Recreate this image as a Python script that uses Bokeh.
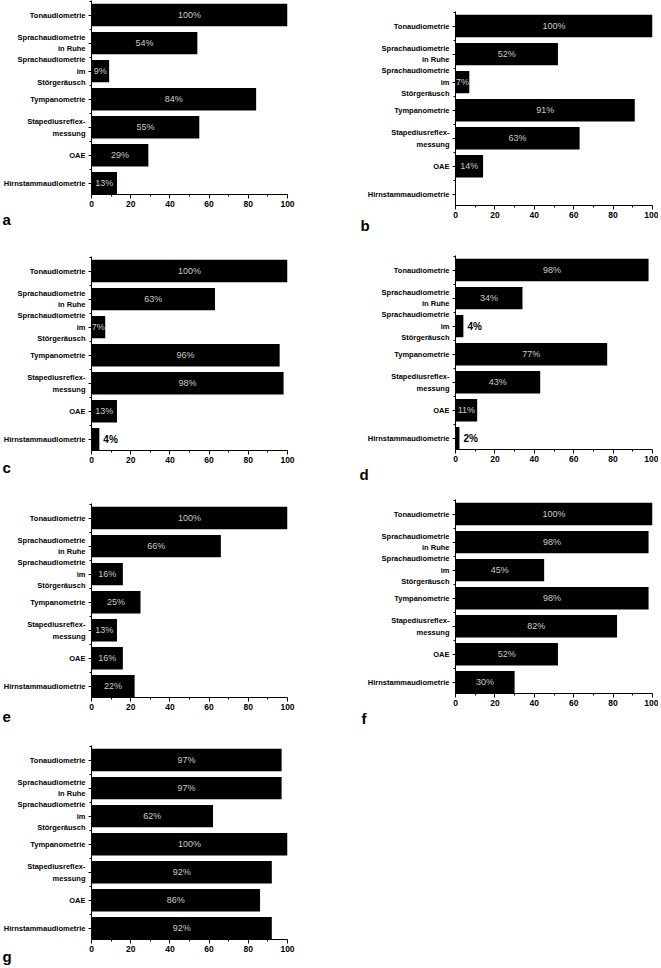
from bokeh.plotting import figure
from bokeh.layouts import column, row
from bokeh.models import ColumnDataSource, FixedTicker, Range1d, Title
from bokeh.core.properties import value
from bokeh.embed import file_html
from bokeh.resources import INLINE

# ---------------- data ----------------
categories = [
    "Tonaudiometrie",
    "Sprachaudiometrie\nin Ruhe",
    "Sprachaudiometrie\nim\nStörgeräusch",
    "Tympanometrie",
    "Stapediusreflex-\nmessung",
    "OAE",
    "Hirnstammaudiometrie",
]
x_ticks = [0, 20, 40, 60, 80, 100]
x_minor_ticks = [10, 30, 50, 70, 90]

values_a = [100, 54, 9, 84, 55, 29, 13]
values_b = [100, 52, 7, 91, 63, 14, 0]
values_c = [100, 63, 7, 96, 98, 13, 4]
values_d = [98, 34, 4, 77, 43, 11, 2]
values_e = [100, 66, 16, 25, 13, 16, 22]
values_f = [100, 98, 45, 98, 82, 52, 30]
values_g = [97, 97, 62, 100, 92, 86, 92]

# ---------------- style ----------------
FONT = "Liberation Sans"
FRAME_H = 194
Y_START, Y_END = -0.4, 6.52


def panel(letter, vals, top, bottom, left, right, frame_w, letter_dx, letter_standoff):
    n = len(categories)
    pos = [n - 1 - i for i in range(n)]
    p = figure(
        title=None,
        width=left + frame_w + right, height=top + FRAME_H + bottom,
        x_range=Range1d(0, 100), y_range=Range1d(Y_START, Y_END),
        output_backend="svg", toolbar_location=None,
        min_border_top=top, min_border_bottom=bottom,
        min_border_left=left, min_border_right=right,
        outline_line_color=None,
        background_fill_color="white", border_fill_color="white",
    )
    src = ColumnDataSource(dict(y=pos, v=vals))
    p.hbar(y="y", left=0, right="v", height=0.8, source=src,
           fill_color="black", line_color=None)

    inside = dict(x=[], y=[], t=[])
    outside = dict(x=[], y=[], t=[])
    for v, y in zip(vals, pos):
        if v >= 5:
            inside["x"].append(v / 2.0)
            inside["y"].append(y)
            inside["t"].append(f"{v}%")
        elif v > 0:
            outside["x"].append(v)
            outside["y"].append(y)
            outside["t"].append(f"{v}%")
    p.text(x="x", y="y", text="t", source=ColumnDataSource(inside),
           text_align="center", text_baseline="middle",
           text_color="#cacaca", text_font=value(FONT), text_font_size="9px")
    p.text(x="x", y="y", text="t", source=ColumnDataSource(outside),
           x_offset=4, text_align="left", text_baseline="middle",
           text_color="black", text_font=value(FONT), text_font_size="10px",
           text_font_style="bold")

    p.xgrid.visible = False
    p.ygrid.visible = False

    xa = p.xaxis[0]
    xa.ticker = FixedTicker(ticks=x_ticks, minor_ticks=x_minor_ticks)
    xa.axis_line_color = "black"
    xa.major_tick_line_color = "black"
    xa.minor_tick_line_color = "black"
    xa.major_tick_in = 0
    xa.major_tick_out = 4
    xa.minor_tick_in = 0
    xa.minor_tick_out = 2
    xa.major_label_standoff = 2
    xa.major_label_text_font = FONT
    xa.major_label_text_font_size = "8.5px"
    xa.major_label_text_font_style = "bold"
    xa.major_label_text_color = "black"

    ya = p.yaxis[0]
    ya.ticker = FixedTicker(ticks=pos, minor_ticks=[k + 0.5 for k in range(n)])
    ya.major_label_overrides = {pos[i]: categories[i] for i in range(n)}
    ya.axis_line_color = "black"
    ya.major_tick_line_color = "black"
    ya.minor_tick_line_color = "black"
    ya.major_tick_in = 0
    ya.major_tick_out = 3
    ya.minor_tick_in = 0
    ya.minor_tick_out = 2
    ya.major_label_standoff = 3
    ya.major_label_text_font = FONT
    ya.major_label_text_font_size = "7.5px"
    ya.major_label_text_font_style = "bold"
    ya.major_label_text_color = "black"
    ya.major_label_text_line_height = 1.3

    t = Title(text=letter, align="left", offset=-letter_dx,
              text_font=FONT, text_font_size="15px", text_font_style="bold",
              text_color="black")
    try:
        t.standoff = letter_standoff
    except Exception:
        pass
    p.add_layout(t, "below")
    return p


# left column: border left 89, frame 198 ; right column: border left 158, frame 197
LW, LL, LR = 198, 89, 10
RW, RL, RR = 197, 158, 6

pa = panel("a", values_a, 0, 50, LL, LR, LW, 89, -2)
pc = panel("c", values_c, 12, 45, LL, LR, LW, 89, -20)
pe = panel("e", values_e, 8, 42, LL, LR, LW, 89, -18)
pg = panel("g", values_g, 6, 27, LL, LR, LW, 89, -20)
pb = panel("b", values_b, 11, 40, RL, RR, RW, 95, -26)
pd = panel("d", values_d, 10, 46, RL, RR, RW, 96, -2)
pf = panel("f", values_f, 4, 40, RL, RR, RW, 94, -2)

layout = row(column(pa, pc, pe, pg), column(pb, pd, pf))

open("out.html", "w").write(file_html(layout, INLINE))
